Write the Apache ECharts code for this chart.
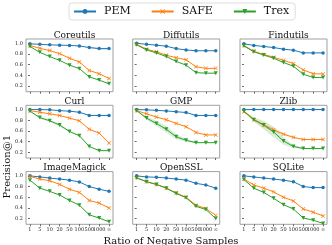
<!DOCTYPE html>
<html><head><meta charset="utf-8">
<script src="https://cdn.jsdelivr.net/npm/echarts@6/dist/echarts.min.js"></script>
<style>html,body{margin:0;padding:0;background:#fff}#c{width:332px;height:245px}</style>
</head><body><div id="c"></div>
<script>
const ratios = ['1','5','10','20','50','100','500','1000','\u221e'];
const seriesNames = ['PEM','SAFE','Trex'];
const panels = ['Coreutils','Diffutils','Findutils','Curl','GMP','Zlib','ImageMagick','OpenSSL','SQLite'];
const yTicks = [0.2,0.4,0.6,0.8,1.0];

const pem = {
  Coreutils:[0.99,0.98,0.97,0.965,0.96,0.95,0.92,0.90,0.90],
  Diffutils:[1.0,0.98,0.965,0.945,0.90,0.875,0.86,0.86,0.86],
  Findutils:[0.99,0.96,0.94,0.92,0.89,0.87,0.82,0.82,0.82],
  Curl:[1.0,1.0,0.995,0.98,0.97,0.95,0.89,0.89,0.89],
  GMP:[1.0,0.995,0.985,0.975,0.96,0.945,0.89,0.89,0.89],
  Zlib:[1.0,1.0,1.0,1.0,1.0,1.0,1.0,1.0,1.0],
  ImageMagick:[1.0,0.98,0.96,0.94,0.92,0.886,0.80,0.75,0.71],
  OpenSSL:[1.0,0.98,0.975,0.96,0.94,0.92,0.86,0.83,0.77],
  SQLite:[1.0,0.98,0.96,0.94,0.92,0.89,0.80,0.78,0.78]
};
const safe = {
  Coreutils:[0.956,0.906,0.863,0.806,0.72,0.65,0.49,0.43,0.34],
  Diffutils:[0.98,0.89,0.84,0.775,0.73,0.69,0.56,0.53,0.53],
  Findutils:[0.956,0.85,0.79,0.74,0.68,0.62,0.50,0.43,0.425],
  Curl:[0.98,0.95,0.92,0.89,0.84,0.79,0.63,0.56,0.375],
  GMP:[0.98,0.92,0.86,0.81,0.74,0.68,0.57,0.525,0.525],
  Zlib:[0.96,0.81,0.71,0.62,0.54,0.48,0.44,0.44,0.44],
  ImageMagick:[0.99,0.94,0.91,0.84,0.75,0.69,0.54,0.49,0.40],
  OpenSSL:[0.97,0.89,0.84,0.77,0.68,0.60,0.45,0.39,0.26],
  SQLite:[0.94,0.83,0.77,0.70,0.60,0.53,0.38,0.32,0.25]
};
const trex = {
  Coreutils:[0.94,0.83,0.75,0.68,0.59,0.525,0.37,0.31,0.24],
  Diffutils:[0.97,0.875,0.82,0.75,0.66,0.59,0.45,0.44,0.44],
  Findutils:[0.95,0.84,0.78,0.72,0.64,0.57,0.42,0.36,0.36],
  Curl:[0.97,0.85,0.79,0.71,0.59,0.51,0.31,0.23,0.23],
  GMP:[0.98,0.84,0.74,0.63,0.49,0.425,0.38,0.38,0.38],
  Zlib:[0.97,0.81,0.71,0.58,0.41,0.31,0.27,0.27,0.27],
  ImageMagick:[0.92,0.77,0.71,0.64,0.54,0.45,0.27,0.21,0.14],
  OpenSSL:[0.96,0.89,0.84,0.77,0.67,0.59,0.43,0.37,0.20],
  SQLite:[0.93,0.77,0.69,0.58,0.46,0.38,0.21,0.17,0.11]
};
// confidence half-widths (shaded bands)
const bandErr = {
  'GMP|Trex':[0.01,0.03,0.05,0.06,0.05,0.03,0.01,0.0,0.0],
  'Zlib|Trex':[0.01,0.04,0.08,0.10,0.07,0.03,0.01,0.0,0.0],
  'Zlib|SAFE':[0.01,0.03,0.05,0.04,0.02,0.01,0.0,0.0,0.0],
  'Curl|Trex':[0.0,0.02,0.02,0.03,0.01,0.01,0.0,0.0,0.0],
  'Coreutils|PEM':[0.0,0.0,0.0,0.0,0.0,0.0,0.01,0.015,0.015],
  'Curl|PEM':[0.0,0.0,0.0,0.0,0.0,0.0,0.01,0.01,0.01],
  'Zlib|PEM':[0.01,0.01,0.01,0.01,0.01,0.01,0.01,0.01,0.01]
};

const colors = {PEM:'#1f77b4', SAFE:'#ff7f0e', Trex:'#2ca02c'};
const xSym = 'path://M0,1.2L1.2,0L5,3.8L8.8,0L10,1.2L6.2,5L10,8.8L8.8,10L5,6.2L1.2,10L0,8.8L3.8,5Z';
const symbols = {PEM:['circle',3.5,0], SAFE:[xSym,4,0], Trex:['triangle',4,180]};
const dataBy = {PEM:pem, SAFE:safe, Trex:trex};
const FONT = 'DejaVu Serif';

const colLeft = [26, 132.7, 240];
const rowTop = [39, 105.3, 171.6];
const gw = 87, gh = 52.7;

const grids=[], xAxes=[], yAxes=[], series=[], titles=[];
panels.forEach((p, i) => {
  const r = Math.floor(i/3), c = i%3;
  grids.push({left:colLeft[c], top:rowTop[r], width:gw, height:gh, show:true,
    borderColor:'#a0a0a0', borderWidth:1, backgroundColor:'transparent'});
  titles.push({text:p, left:colLeft[c]+gw/2, top:rowTop[r]-13, textAlign:'center',
    textStyle:{fontFamily:FONT, fontSize:9, fontWeight:'normal', color:'#111'}});
  xAxes.push({type:'value', gridIndex:i, min:-0.4, max:8.4,
    axisLine:{show:false}, splitLine:{show:false},
    axisTick:{show:true, customValues:[0,1,2,3,4,5,6,7,8], length:2, lineStyle:{color:'#444', width:0.8}},
    axisLabel:{show:r===2, customValues:[0,1,2,3,4,5,6,7,8], formatter:v=>ratios[Math.round(v)],
      fontFamily:FONT, fontSize:5, color:'#222', margin:3}});
  yAxes.push({type:'value', gridIndex:i, min:0.093, max:1.08,
    axisLine:{show:false}, splitLine:{show:false},
    axisTick:{show:true, customValues:yTicks, length:2, lineStyle:{color:'#444', width:0.8}},
    axisLabel:{show:c===0, customValues:yTicks, formatter:v=>v.toFixed(1),
      fontFamily:FONT, fontSize:5, color:'#222', margin:3}});
  seriesNames.forEach(s => {
    const key = p+'|'+s;
    const vals = dataBy[s][p];
    if (bandErr[key]) {
      const err = bandErr[key];
      const bandData = vals.map((v,k)=>[k, v-err[k], v+err[k]]);
      series.push({type:'custom', xAxisIndex:i, yAxisIndex:i, silent:true, z:1,
        data:[[0,0,0]],
        renderItem:(params, api) => {
          const upper = bandData.map(d=>api.coord([d[0], d[2]]));
          const lower = bandData.map(d=>api.coord([d[0], d[1]])).reverse();
          return {type:'polygon', shape:{points:upper.concat(lower)},
            style:{fill:colors[s], opacity:0.18}};
        }});
    }
    series.push({name:s, type:'line', xAxisIndex:i, yAxisIndex:i,
      data:vals.map((v,k)=>[k,v]), symbol:symbols[s][0], symbolSize:symbols[s][1],
      symbolRotate:symbols[s][2], showSymbol:true,
      itemStyle:{color:colors[s]}, lineStyle:{color:colors[s], width:1}, z:3, animation:false});
  });
});

titles.push({text:'Ratio of Negative Samples', left:166, top:231, textAlign:'center',
  textStyle:{fontFamily:FONT, fontSize:10, fontWeight:'normal', color:'#111'}});

const chart = echarts.init(document.getElementById('c'), null, {renderer:'canvas'});
chart.setOption({
  animation:false,
  color:[colors.PEM, colors.SAFE, colors.Trex],
  title:titles,
  legend:{data:seriesNames, left:69, top:3, width:217, height:18,
    padding:[3,6,3,4], itemGap:20, itemWidth:22, itemHeight:6,
    borderColor:'#dddddd', borderWidth:1, borderRadius:3,
    textStyle:{fontFamily:FONT, fontSize:11, color:'#111', padding:[0,0,0,3]}},
  grid:grids, xAxis:xAxes, yAxis:yAxes, series:series,
  graphic:[{type:'text', left:2, top:135, rotation:Math.PI/2,
    style:{text:'Precision@1', font:'10px "DejaVu Serif"', fill:'#111', textAlign:'center', textVerticalAlign:'top'},
    x:2, y:135}]
});
</script></body></html>
